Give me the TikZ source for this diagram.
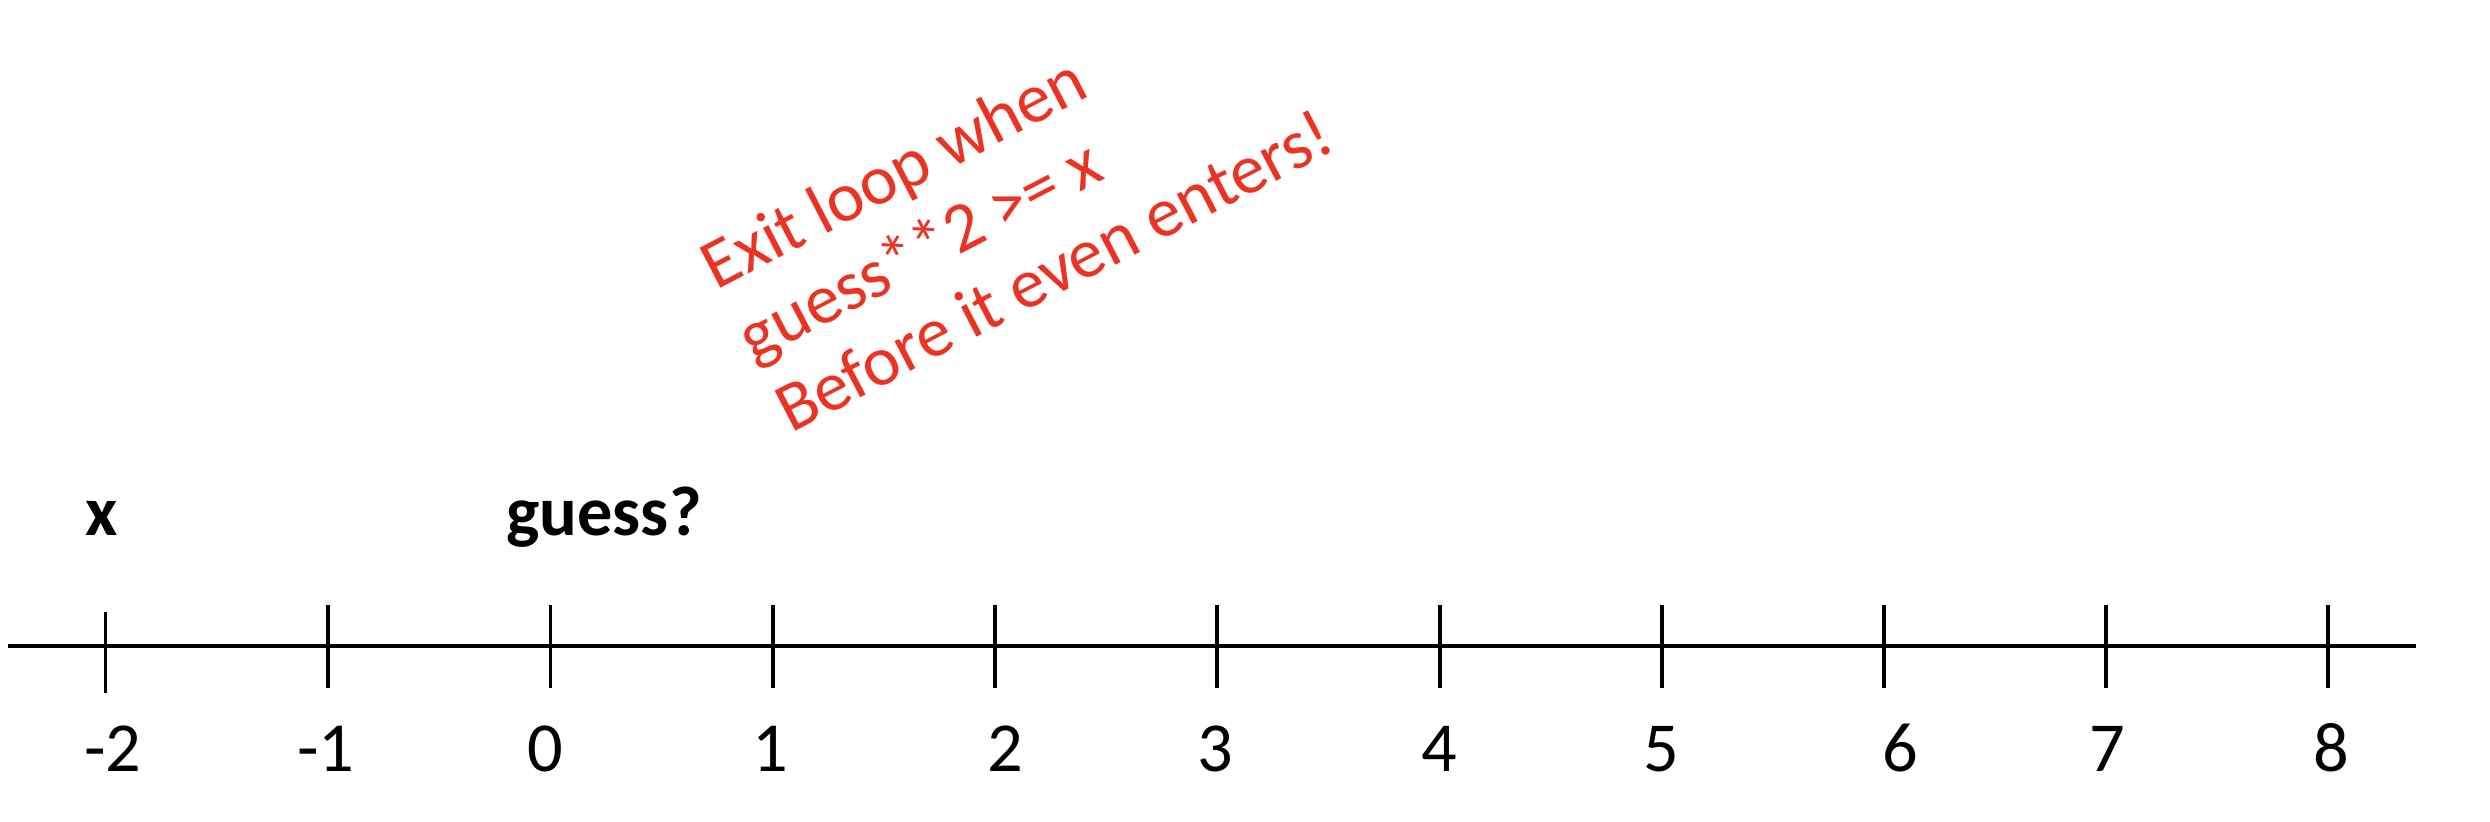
\documentclass[tikz,border=0pt]{standalone}
\usepackage{fontspec}
\setmainfont{Carlito}
\usetikzlibrary{calc}
\definecolor{annotred}{RGB}{235,51,36}
\begin{document}
\begin{tikzpicture}[x=0.01cm,y=0.01cm,
  axisline/.style={line width=0.95pt, black},
  ticklabel/.style={font=\fontsize{20}{24}\selectfont, anchor=base, inner sep=0pt},
  varlabel/.style={font=\fontsize{20}{24}\selectfont\bfseries, anchor=base, inner sep=0pt},
  note/.style={font=\fontsize{20}{24}\selectfont, text=annotred, anchor=base west, inner sep=0pt, rotate=27.5}]
\useasboundingbox (0,0) rectangle (2490,822);
\coordinate (axL) at (8,176);
\coordinate (axR) at (2416,176);
\draw[axisline] (axL) -- (axR);
\foreach \n/\tx/\lx/\ty/\by [count=\i] in {-2/105.7/113/210/129, -1/328/326/217/134, 0/550.7/545/217/134, 1/773/770/217/134, 2/995/1005/217/134, 3/1217/1215/217/134, 4/1440/1439/217/134, 5/1662/1661/217/134, 6/1884/1900/217/134, 7/2106/2107/217/134, 8/2328/2331/217/134} {
  \coordinate (tt\i) at (\tx,\ty);
  \coordinate (tb\i) at (\tx,\by);
  \draw[axisline] (tt\i) -- (tb\i);
  \node[ticklabel] (lab\i) at (\lx,50) {\n};
}
\node[varlabel] (xlab) at (102,286) {x};
\node[varlabel] (guesslab) at (604,286) {guess?};
\coordinate (n0) at (716,531);
\node[note] (note1) at (n0) {Exit loop when};
\node[note] (note2) at ($(n0)+(-62.5:80.7)$) {guess**2 >= x};
\node[note] (note3) at ($(n0)+(-62.5:161.4)$) {Before it even enters!};
\end{tikzpicture}
\end{document}
